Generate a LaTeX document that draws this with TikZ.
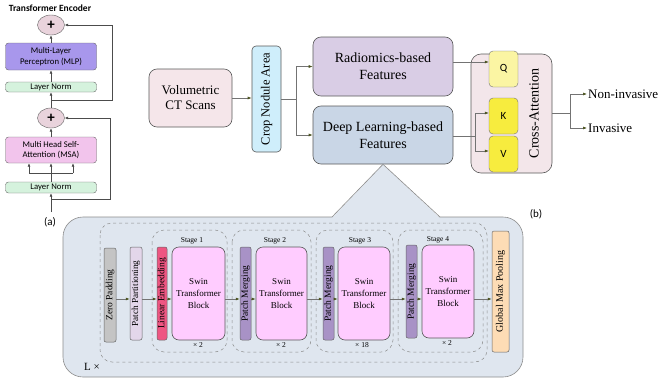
\documentclass[tikz,border=0pt]{standalone}
\usepackage{fontspec}
\setmainfont{Liberation Serif}
\newfontfamily\carl{Carlito}
\usetikzlibrary{arrows.meta,shapes.geometric}
\definecolor{plusc}{HTML}{E9D3DC}
\definecolor{mlpc}{HTML}{A897EC}
\definecolor{lnc}{HTML}{D5F2DD}
\definecolor{msac}{HTML}{F2C4EC}
\definecolor{volc}{HTML}{F5E6EA}
\definecolor{cropc}{HTML}{CFEEFB}
\definecolor{radc}{HTML}{D9CDE5}
\definecolor{dlc}{HTML}{C9D6E6}
\definecolor{panelc}{HTML}{DFE6EF}
\definecolor{crossc}{HTML}{F3E6EA}
\definecolor{qc}{HTML}{FBF5A3}
\definecolor{kvc}{HTML}{F7EC3E}
\definecolor{zpc}{HTML}{C4C4C4}
\definecolor{ppc}{HTML}{E3D6EA}
\definecolor{lec}{HTML}{EE5682}
\definecolor{swc}{HTML}{FFCCFF}
\definecolor{pmc}{HTML}{A892C6}
\definecolor{gmpc}{HTML}{FDDCB5}
\definecolor{tipc}{HTML}{4B5320}
\begin{document}
\begin{tikzpicture}[x=1pt,y=-1pt,
  lbox/.style={draw=black!60, rounded corners=3pt, minimum width=91, inner sep=0pt, align=center, font=\carl\fontsize{8.7}{10.5}\selectfont},
  plus/.style={ellipse, draw=black!60, fill=plusc, minimum width=27, minimum height=20, inner sep=0pt, font=\carl\bfseries\fontsize{15}{15}\selectfont},
  box/.style={draw=black!65, line width=0.6pt, rounded corners=8pt, inner sep=0pt, align=center},
  sbox/.style={draw=black!60, line width=0.5pt, rounded corners=2pt, inner sep=0pt},
  qbox/.style={draw=black!55, rounded corners=4pt, minimum width=29, minimum height=36, inner sep=0pt, font=\carl\fontsize{11}{12}\selectfont},
  rtxt/.style={rotate=90, inner sep=0pt},
  lconn/.style={draw=black!70, line width=0.6pt, -{Latex[length=3.5pt,width=3pt]}},
  lline/.style={draw=black!70, line width=0.6pt},
  conn/.style={draw=black!55, line width=0.6pt, -{Latex[length=4pt,width=3pt,color=tipc]}},
  cline/.style={draw=black!55, line width=0.6pt},
  dbox/.style={draw=black!45, dashed, line width=0.5pt, rounded corners=12pt}
]
\useasboundingbox (0,0) rectangle (659,383);

% ---------- (a) Transformer encoder ----------
\node[font=\carl\bfseries\fontsize{9.5}{11}\selectfont] (title) at (50,8) {Transformer Encoder};
\node[plus] (p1) at (51,25) {+};
\node[lbox, fill=mlpc, minimum height=27] (mlp) at (51,56.5) {Multi-Layer\\Perceptron (MLP)};
\node[lbox, fill=lnc, minimum height=10] (ln2) at (51,87) {Layer Norm};
\node[plus] (p2) at (51,118) {+};
\node[lbox, fill=msac, minimum height=26] (msa) at (51,150) {Multi Head Self-\\Attention (MSA)};
\node[lbox, fill=lnc, minimum height=11] (ln1) at (51,187.5) {Layer Norm};
\node[font=\carl\fontsize{11}{12}\selectfont] (la) at (50,222) {(a)};

\coordinate (in) at (51,212);
\coordinate (b1) at (51,199);
\coordinate (b2) at (51,100);
\coordinate (s0) at (51,173);
\coordinate (sl) at (29,173);
\coordinate (sr) at (73,173);
\draw[lconn] (in) -- (ln1.south);
\draw[lconn] (b1) -- ++(59,0) |- (p2.east);
\draw[lline] (ln1.north) -- (s0);
\draw[lline] (sl) -- (sr);
\draw[lconn] (sl) -- (sl |- msa.south);
\draw[lconn] (s0) -- (msa.south);
\draw[lconn] (sr) -- (sr |- msa.south);
\draw[lconn] (msa.north) -- (p2.south);
\draw[lconn] (p2.north) -- (ln2.south);
\draw[lconn] (b2) -- ++(61,0) |- (p1.east);
\draw[lconn] (ln2.north) -- (mlp.south);
\draw[lconn] (mlp.north) -- (p1.south);

% ---------- (b) main pipeline ----------
\node[box, fill=volc, minimum width=83, minimum height=58, font=\fontsize{13}{15}\selectfont] (vol) at (190.5,98) {Volumetric\\CT Scans};
\node[box, fill=cropc, rounded corners=4pt, minimum width=29, minimum height=106] (crop) at (266.5,99) {};
\node[rtxt, font=\fontsize{12.5}{14}\selectfont] at (crop) {Crop Nodule Area};
\node[box, fill=radc, minimum width=140, minimum height=59, font=\fontsize{14}{17}\selectfont] (rad) at (383,66.5) {Radiomics-based\\Features};
\node[box, fill=dlc, minimum width=140, minimum height=58, font=\fontsize{14}{17}\selectfont] (dl) at (383,135) {Deep Learning-based\\Features};

\node[box, fill=crossc, rounded corners=10pt, minimum width=81, minimum height=119] (cross) at (511.5,113.5) {};
\node[rtxt, font=\fontsize{14}{16}\selectfont] (crosst) at (534,113.5) {Cross-Attention};
\node[qbox, fill=qc] (Q) at (503.5,69) {Q};
\node[qbox, fill=kvc] (K) at (503.5,116) {K};
\node[qbox, fill=kvc] (V) at (503.5,154) {V};

\node[anchor=west, inner sep=1pt, font=\fontsize{13}{15}\selectfont] (nonin) at (587,94) {Non-invasive};
\node[anchor=west, inner sep=1pt, font=\fontsize{13}{15}\selectfont] (inv) at (587,128) {Invasive};
\node[font=\carl\fontsize{11}{12}\selectfont] (lb) at (536,214) {(b)};

\draw[conn] (vol.east) -- (crop.west |- vol.east);
\draw[cline] (crop.east) -- ++(15,0) coordinate (cb);
\draw[conn] (cb) |- (rad.west);
\draw[conn] (cb) |- (dl.west);
\coordinate (qin) at (489,62);
\draw[conn] (rad.east |- qin) -- (Q.west |- qin);
\coordinate (kvb) at (475,136);
\draw[cline] (dl.east |- kvb) -- (kvb);
\draw[conn] (kvb) |- ([yshift=3pt]K.west);
\draw[conn] (kvb) |- ([yshift=3pt]V.west);
\draw[cline] (cross.east) -- ++(18,0) coordinate (ob);
\draw[conn] (ob) |- (nonin.west);
\draw[conn] (ob) |- (inv.west);

% ---------- Swin backbone panel ----------
\draw[draw=black!45, line width=0.6pt, fill=panelc, rounded corners=20pt] (63,217) rectangle (523,377);
\fill[panelc] (332,218) -- (383,164.3) -- (440,218) -- cycle;
\draw[draw=black!45, line width=0.6pt] (332,217) -- (383,164.3) -- (440,217);

\draw[dbox] (100,223) rectangle (487,362);
\draw[dbox] (152,230) rectangle (227,352);
\draw[dbox] (232,230) rectangle (311,352);
\draw[dbox] (316,230) rectangle (393,352);
\draw[dbox] (398,230) rectangle (483,352);

\node[font=\fontsize{7.5}{9}\selectfont] (st1) at (192,241) {Stage 1};
\node[font=\fontsize{7.5}{9}\selectfont] (st2) at (275,241) {Stage 2};
\node[font=\fontsize{7.5}{9}\selectfont] (st3) at (360,241) {Stage 3};
\node[font=\fontsize{7.5}{9}\selectfont] (st4) at (438,240) {Stage 4};

\node[sbox, fill=zpc, minimum width=12, minimum height=94] (zp) at (110,295) {};
\node[rtxt, font=\fontsize{9.5}{11}\selectfont] at (zp) {Zero Padding};
\node[sbox, fill=ppc, minimum width=12, minimum height=93] (pp) at (136,293.5) {};
\node[rtxt, font=\fontsize{9.2}{11}\selectfont] at (pp) {Patch Partitioning};
\node[sbox, fill=lec, minimum width=10, minimum height=93] (le) at (162,293.5) {};
\node[rtxt, font=\fontsize{9.5}{11}\selectfont] at (le) {Linear Embedding};

\node[box, fill=swc, rounded corners=7pt, minimum width=53, minimum height=93, font=\fontsize{9}{12}\selectfont] (sw1) at (198.5,293.5) {Swin\\Transformer\\Block};
\node[sbox, fill=pmc, minimum width=11, minimum height=93] (pm2) at (245.5,293.5) {};
\node[rtxt, font=\fontsize{9.5}{11}\selectfont] at (pm2) {Patch Merging};
\node[box, fill=swc, rounded corners=7pt, minimum width=51, minimum height=93, font=\fontsize{9}{12}\selectfont] (sw2) at (281.5,293.5) {Swin\\Transformer\\Block};
\node[sbox, fill=pmc, minimum width=11, minimum height=93] (pm3) at (328.5,293.5) {};
\node[rtxt, font=\fontsize{9.5}{11}\selectfont] at (pm3) {Patch Merging};
\node[box, fill=swc, rounded corners=7pt, minimum width=52, minimum height=93, font=\fontsize{9}{12}\selectfont] (sw3) at (364,293.5) {Swin\\Transformer\\Block};
\node[sbox, fill=pmc, minimum width=11, minimum height=93] (pm4) at (411.5,291.5) {};
\node[rtxt, font=\fontsize{9.5}{11}\selectfont] at (pm4) {Patch Merging};
\node[box, fill=swc, rounded corners=7pt, minimum width=52, minimum height=93, font=\fontsize{9}{12}\selectfont] (sw4) at (448,291.5) {Swin\\Transformer\\Block};
\node[sbox, fill=gmpc, minimum width=17, minimum height=121] (gmp) at (500.5,291.5) {};
\node[rtxt, font=\fontsize{10}{12}\selectfont] at (gmp) {Global Max Pooling};

\node[font=\fontsize{7.5}{9}\selectfont] (x1) at (198,345) {× 2};
\node[font=\fontsize{7.5}{9}\selectfont] (x2) at (281,345) {× 2};
\node[font=\fontsize{7.5}{9}\selectfont] (x3) at (362,345) {× 18};
\node[font=\fontsize{7.5}{9}\selectfont] (x4) at (447,343) {× 2};
\node[font=\fontsize{11}{12}\selectfont] (lx) at (92,367) {L ×};

\coordinate (ay) at (0,299);
\draw[conn] (zp.east |- ay) -- (pp.west |- ay);
\draw[conn] (pp.east |- ay) -- (le.west |- ay);
\draw[conn] (le.east |- ay) -- (sw1.west |- ay);
\draw[conn] (sw1.east |- ay) -- (pm2.west |- ay);
\draw[conn] (pm2.east |- ay) -- (sw2.west |- ay);
\draw[conn] (sw2.east |- ay) -- (pm3.west |- ay);
\draw[conn] (pm3.east |- ay) -- (sw3.west |- ay);
\draw[conn] (sw3.east |- ay) -- (pm4.west |- ay);
\draw[conn] (pm4.east |- ay) -- (sw4.west |- ay);
\draw[conn] (sw4.east |- ay) -- (gmp.west |- ay);
\end{tikzpicture}
\end{document}
